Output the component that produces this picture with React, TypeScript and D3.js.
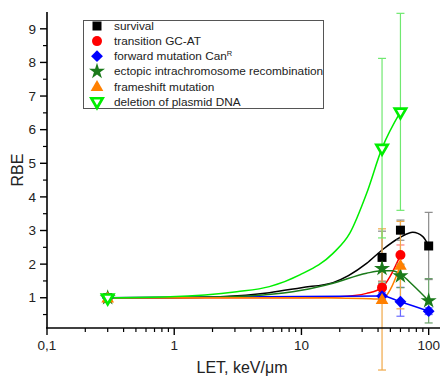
import React from 'react';
import * as d3 from 'd3';

// measured points (LET, RBE, error)
const survivalX = [0.3, 43, 60, 100];
const survivalY = [1.0, 2.2, 3.01, 2.54];
const survivalErr = [0.05, 0.78, 0.3, 1.0];

const transitionX = [0.3, 43, 60];
const transitionY = [1.0, 1.3, 2.27];
const transitionErr = [0.05, 0.2, 0.3];

const forwardX = [0.3, 43, 60, 100];
const forwardY = [1.0, 1.05, 0.88, 0.6];
const forwardErr = [0.05, 0.1, 0.43, 0.1];

const ectopicX = [0.3, 43, 60, 100];
const ectopicY = [1.0, 1.87, 1.65, 0.91];
const ectopicErr = [0.05, 0.4, 0.35, 0.66];

const frameshiftX = [0.3, 43, 60];
const frameshiftY = [1.0, 0.95, 1.97];
const frameshiftErr = [0.05, 2.1, 1.3];

const deletionX = [0.3, 43, 60];
const deletionY = [1.0, 5.45, 6.53];
const deletionErr = [0.05, 2.67, 2.93];

// fitted curves
const survivalFitX = [0.3, 1, 2.3, 5.6, 10, 17.7, 32.5, 43, 60, 75, 90, 100];
const survivalFitY = [1.0, 1.0, 1.03, 1.15, 1.3, 1.45, 2.02, 2.42, 2.8, 2.95, 2.82, 2.54];
const transitionFitX = [0.3, 5, 10, 20, 32.5, 43, 50, 60];
const transitionFitY = [1.0, 1.0, 1.0, 1.03, 1.13, 1.3, 1.65, 2.27];
const forwardFitX = forwardX;
const forwardFitY = forwardY;
const ectopicFitX = [0.3, 2, 5, 10, 17.7, 32.5, 43, 52, 60, 75, 100];
const ectopicFitY = [1.0, 1.02, 1.08, 1.22, 1.43, 1.73, 1.8, 1.8, 1.7, 1.38, 0.91];
const frameshiftFitX = [0.3, 10, 30, 43, 50, 60];
const frameshiftFitY = [1.0, 1.0, 0.98, 0.96, 1.25, 1.97];
const deletionFitX = [0.3, 0.93, 3.1, 5.6, 9.7, 17.7, 24, 32.5, 43, 60];
const deletionFitY = [1.0, 1.03, 1.18, 1.33, 1.68, 2.32, 2.92, 4.1, 5.45, 6.53];

const yTicks = [1, 2, 3, 4, 5, 6, 7, 8, 9];
const xTicks = [0.1, 1, 10, 100];
const xTickLabels = ['0,1', '1', '10', '100'];

const seriesNames = [
  'survival',
  'transition GC-AT',
  'forward mutation Can',
  'ectopic intrachromosome recombination',
  'frameshift mutation',
  'deletion of plasmid DNA',
];

const font = "'Liberation Sans', Arial, sans-serif";

const x = d3.scaleLog().domain([0.1, 125]).range([47, 441]);
const y = d3.scaleLinear().domain([0.1, 9.5]).range([328, 12]);

type Series = {
  name: string;
  xs: number[];
  ys: number[];
  err: number[];
  fitX: number[];
  fitY: number[];
  color: string;
  errColor: string;
  shape: string;
};

const series: Series[] = [
  { name: seriesNames[0], xs: survivalX, ys: survivalY, err: survivalErr, fitX: survivalFitX, fitY: survivalFitY, color: '#000000', errColor: '#8a8a8a', shape: 'square' },
  { name: seriesNames[1], xs: transitionX, ys: transitionY, err: transitionErr, fitX: transitionFitX, fitY: transitionFitY, color: '#ff0000', errColor: '#ff7a7a', shape: 'circle' },
  { name: seriesNames[2], xs: forwardX, ys: forwardY, err: forwardErr, fitX: forwardFitX, fitY: forwardFitY, color: '#0000ff', errColor: '#6a6aff', shape: 'diamond' },
  { name: seriesNames[3], xs: ectopicX, ys: ectopicY, err: ectopicErr, fitX: ectopicFitX, fitY: ectopicFitY, color: '#1a7a1a', errColor: '#6aa06a', shape: 'star' },
  { name: seriesNames[4], xs: frameshiftX, ys: frameshiftY, err: frameshiftErr, fitX: frameshiftFitX, fitY: frameshiftFitY, color: '#ff8000', errColor: '#f0a848', shape: 'triangle' },
  { name: seriesNames[5], xs: deletionX, ys: deletionY, err: deletionErr, fitX: deletionFitX, fitY: deletionFitY, color: '#00ee00', errColor: '#70e870', shape: 'triangleDown' },
];

const Marker = ({ shape, color, cx, cy }: { shape: string; color: string; cx: number; cy: number }) => {
  if (shape === 'square') return <rect x={cx - 4.5} y={cy - 4.5} width={9} height={9} fill={color} />;
  if (shape === 'circle') return <circle cx={cx} cy={cy} r={5} fill={color} />;
  if (shape === 'diamond') return <path d={d3.symbol(d3.symbolSquare, 70)()!} transform={`translate(${cx},${cy}) rotate(45)`} fill={color} />;
  if (shape === 'star') return <path d={d3.symbol(d3.symbolStar, 80)()!} transform={`translate(${cx},${cy})`} fill={color} />;
  if (shape === 'triangle') return <path d={d3.symbol(d3.symbolTriangle, 70)()!} transform={`translate(${cx},${cy + 1})`} fill={color} />;
  return <path d={d3.symbol(d3.symbolTriangle, 55)()!} transform={`translate(${cx},${cy}) rotate(180)`} fill="#fff" stroke={color} strokeWidth={2.7} />;
};

export default function App() {
  const line = d3.line<[number, number]>().x(d => x(d[0])).y(d => y(d[1])).curve(d3.curveMonotoneX);

  const minorY = d3.range(0.5, 9.5, 1);
  const minorX: number[] = [];
  [0.1, 1, 10].forEach(dec => d3.range(2, 10).forEach(k => minorX.push(dec * k)));

  return (
    <svg width={440} height={376} style={{ position: 'absolute', left: 0, top: 0, background: '#fff' }} fontFamily={font}>
      {/* fit curves */}
      {series.map(s => (
        <path key={'c' + s.name} d={line(s.fitX.map((v, i) => [v, s.fitY[i]] as [number, number]))!} fill="none" stroke={s.color} strokeWidth={1.5} />
      ))}

      {/* error bars */}
      {series.map(s => s.xs.map((v, i) => {
        const cx = x(v);
        const y1 = y(s.ys[i] + s.err[i]);
        const y2 = y(s.ys[i] - s.err[i]);
        return (
          <g key={'e' + s.name + i} stroke={s.errColor} strokeWidth={1.2}>
            <line x1={cx} x2={cx} y1={y1} y2={y2} />
            <line x1={cx - 4} x2={cx + 4} y1={y1} y2={y1} />
            <line x1={cx - 4} x2={cx + 4} y1={y2} y2={y2} />
          </g>
        );
      }))}

      {/* markers */}
      {series.map(s => s.xs.map((v, i) => (
        <Marker key={'m' + s.name + i} shape={s.shape} color={s.color} cx={x(v)} cy={y(s.ys[i])} />
      )))}

      {/* y axis */}
      <line x1={47} x2={47} y1={12} y2={328} stroke="#000" strokeWidth={1.6} />
      {yTicks.map(t => (
        <g key={'yt' + t}>
          <line x1={40} x2={47} y1={y(t)} y2={y(t)} stroke="#000" strokeWidth={1.4} />
          <text x={36} y={y(t)} dy="0.35em" textAnchor="end" fontSize={13.5} fill="#222">{t}</text>
        </g>
      ))}
      {minorY.map(t => (
        <line key={'ym' + t} x1={43} x2={47} y1={y(t)} y2={y(t)} stroke="#000" strokeWidth={1.2} />
      ))}
      <text transform="translate(23,170) rotate(-90)" textAnchor="middle" fontSize={16} fill="#222">RBE</text>

      {/* x axis */}
      <line x1={46} x2={440} y1={328} y2={328} stroke="#000" strokeWidth={1.6} />
      {xTicks.map((t, i) => (
        <g key={'xt' + t}>
          <line x1={x(t)} x2={x(t)} y1={328} y2={335} stroke="#000" strokeWidth={1.4} />
          <text x={x(t)} y={350} textAnchor="middle" fontSize={13.5} fill="#222">{xTickLabels[i]}</text>
        </g>
      ))}
      {minorX.filter(t => x(t) < 440).map(t => (
        <line key={'xm' + t} x1={x(t)} x2={x(t)} y1={328} y2={332} stroke="#000" strokeWidth={1.2} />
      ))}
      <text x={242} y={373} textAnchor="middle" fontSize={16} fill="#222">LET, keV/μm</text>

      {/* legend */}
      <rect x={83.5} y={20.5} width={240} height={88} fill="#fff" stroke="#555" strokeWidth={1} />
      {series.map((s, i) => {
        const ly = 26 + i * 15.1;
        return (
          <g key={'l' + s.name}>
            <Marker shape={s.shape} color={s.color} cx={97} cy={ly} />
            <text x={114} y={ly} dy="0.35em" fontSize={11.8} fill="#222">
              {s.name}
              {i === 2 ? <tspan fontSize={7.5} dy="-4">R</tspan> : null}
            </text>
          </g>
        );
      })}
    </svg>
  );
}
